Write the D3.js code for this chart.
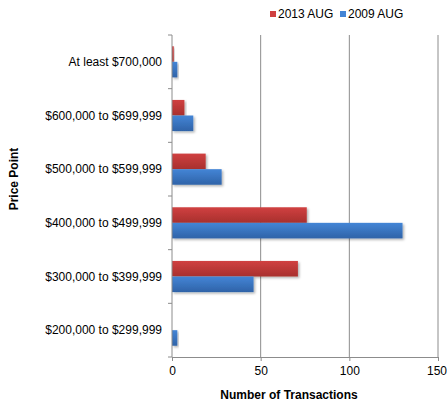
<!DOCTYPE html>
<html>
<head>
<meta charset="utf-8">
<script src="https://cdn.jsdelivr.net/npm/d3@7"></script>
<style>
  html, body { margin: 0; padding: 0; background: #fff; }
  svg { display: block; font-family: "Liberation Sans", Arial, sans-serif; }
</style>
</head>
<body>
<svg id="chart" width="447" height="403"></svg>
<script>
// Price brackets, top to bottom
const categories = [
  "At least $700,000",
  "$600,000 to $699,999",
  "$500,000 to $599,999",
  "$400,000 to $499,999",
  "$300,000 to $399,999",
  "$200,000 to $299,999"
];
const seriesNames = ["2013 AUG", "2009 AUG"];
const values2013 = [1, 7, 19, 76, 71, 0];
const values2009 = [3, 12, 28, 130, 46, 3];
const xTicks = [0, 50, 100, 150];

const colors = {
  "2013 AUG": ["#d04040", "#a8302e"],
  "2009 AUG": ["#4485d6", "#2f63a8"]
};

const svg = d3.select("#chart");
const margin = { left: 172, right: 9, top: 35, bottom: 46 };
const W = 447, H = 403;
const plotW = W - margin.left - margin.right;
const plotH = H - margin.top - margin.bottom;
const fontSize = 12;

const defs = svg.append("defs");
seriesNames.forEach((s, i) => {
  const g = defs.append("linearGradient")
    .attr("id", "grad" + i).attr("x1", 0).attr("y1", 0).attr("x2", 0).attr("y2", 1);
  g.append("stop").attr("offset", "0%").attr("stop-color", colors[s][0]);
  g.append("stop").attr("offset", "100%").attr("stop-color", colors[s][1]);
});
const f = defs.append("filter").attr("id", "shadow")
  .attr("x", "-10%").attr("y", "-20%").attr("width", "130%").attr("height", "160%");
f.append("feDropShadow").attr("dx", 1.5).attr("dy", 1.5).attr("stdDeviation", 1.2)
  .attr("flood-color", "#000").attr("flood-opacity", 0.3);

const x = d3.scaleLinear().domain([0, 150]).range([0, plotW]);
const y = d3.scaleBand().domain(categories).range([0, plotH]).paddingInner(0.42).paddingOuter(0.21);
const ySub = d3.scaleBand().domain(seriesNames).range([0, y.bandwidth()]);

const g = svg.append("g").attr("transform", `translate(${margin.left},${margin.top})`);

// vertical gridlines
g.selectAll(".grid").data(xTicks.slice(1)).join("line")
  .attr("x1", d => x(d)).attr("x2", d => x(d))
  .attr("y1", 0).attr("y2", plotH)
  .attr("stroke", "#8c8c8c").attr("stroke-width", 1);

// bars
const rows = categories.map((c, i) => ({ cat: c, vals: [values2013[i], values2009[i]] }));
const rowG = g.selectAll(".row").data(rows).join("g")
  .attr("transform", d => `translate(0,${y(d.cat)})`);
rowG.selectAll("rect").data(d => d.vals.map((v, i) => ({ s: seriesNames[i], v, i })))
  .join("rect")
  .filter(d => d.v > 0)
  .attr("x", 0)
  .attr("y", d => ySub(d.s))
  .attr("width", d => x(d.v))
  .attr("height", ySub.bandwidth())
  .attr("fill", d => `url(#grad${d.i})`)
  .attr("filter", "url(#shadow)");

// x axis
const xAxis = g.append("g").attr("transform", `translate(0,${plotH})`)
  .call(d3.axisBottom(x).tickValues(xTicks).tickSize(4).tickPadding(5));
xAxis.select(".domain").attr("stroke", "#8c8c8c");
xAxis.selectAll(".tick line").attr("stroke", "#8c8c8c");
xAxis.selectAll("text").attr("font-size", fontSize).attr("fill", "#000")
  .attr("font-family", "Liberation Sans, Arial, sans-serif");
// keep the last tick label inside the canvas
xAxis.selectAll(".tick text").filter(d => d === xTicks[xTicks.length - 1])
  .attr("text-anchor", "end").attr("x", W - margin.left - x(xTicks[xTicks.length - 1]) - 0.5);

// y axis line with boundary ticks
g.append("line").attr("x1", 0).attr("x2", 0).attr("y1", 0).attr("y2", plotH)
  .attr("stroke", "#8c8c8c");
const step = plotH / categories.length;
g.selectAll(".ytick").data(d3.range(categories.length + 1)).join("line")
  .attr("x1", -4).attr("x2", 0)
  .attr("y1", d => d * step).attr("y2", d => d * step)
  .attr("stroke", "#8c8c8c");
g.selectAll(".ylab").data(categories).join("text")
  .attr("x", -10).attr("y", d => y(d) + y.bandwidth() / 2)
  .attr("dy", "0.35em").attr("text-anchor", "end")
  .attr("font-size", fontSize).attr("fill", "#000").text(d => d);

// axis titles
svg.append("text").attr("x", 289).attr("y", 399)
  .attr("text-anchor", "middle").attr("font-size", fontSize).attr("font-weight", "bold")
  .text("Number of Transactions");
svg.append("text").attr("transform", "translate(18,179) rotate(-90)")
  .attr("text-anchor", "middle").attr("font-size", fontSize).attr("font-weight", "bold")
  .text("Price Point");

// legend
const legend = svg.append("g").attr("transform", "translate(270,14)");
const lx = [0, 70];
seriesNames.forEach((s, i) => {
  const lg = legend.append("g").attr("transform", `translate(${lx[i]},0)`);
  lg.append("rect").attr("x", 0).attr("y", -3).attr("width", 6).attr("height", 6)
    .attr("fill", colors[s][0]);
  lg.append("text").attr("x", 8).attr("y", 0).attr("dy", "0.35em")
    .attr("font-size", fontSize).text(s);
});
</script>
</body>
</html>
